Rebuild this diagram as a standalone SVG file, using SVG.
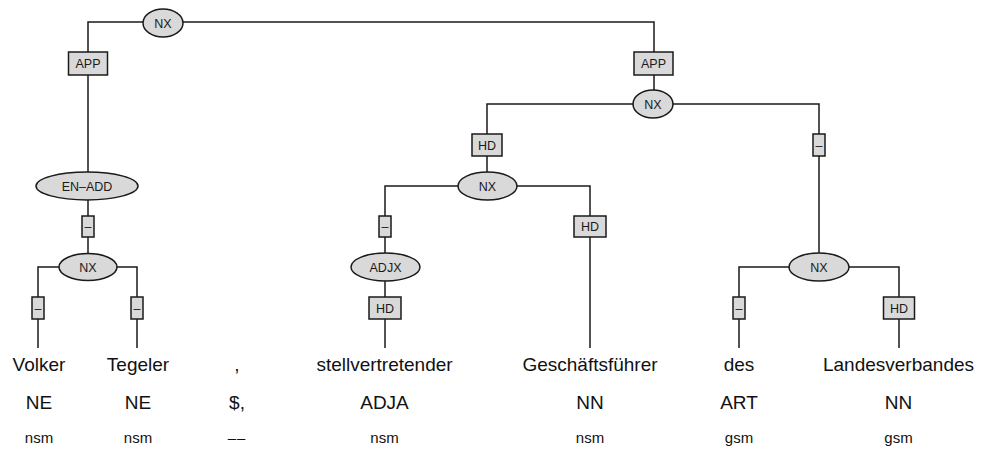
<svg xmlns="http://www.w3.org/2000/svg" width="981" height="455" viewBox="0 0 981 455">
<style>
.e{fill:none;stroke:#1a1a1a;stroke-width:1.5}
.n{fill:#d9d9d9;stroke:#1a1a1a;stroke-width:1.5}
.l{fill:#d9d9d9;stroke:#1a1a1a;stroke-width:1.5}
.t{font-family:"Liberation Sans",Arial,sans-serif;font-size:12.5px;fill:#1a1a1a;text-anchor:middle}
.w{font-family:"Liberation Sans",Arial,sans-serif;font-size:19px;fill:#111;text-anchor:middle}
.m{font-family:"Liberation Sans",Arial,sans-serif;font-size:15px;fill:#111;text-anchor:middle}
</style>
<rect width="981" height="455" fill="#fff"/>
<g id="connectors">
<path class="e" d="M163,22 H88 V172"/>
<path class="e" d="M163,22 H654 V90"/>
<path class="e" d="M88,200 V254"/>
<path class="e" d="M88,267 H38 V348"/>
<path class="e" d="M88,267 H137 V348"/>
<path class="e" d="M653,104 H487 V172"/>
<path class="e" d="M653,104 H819 V253"/>
<path class="e" d="M487,186 H385 V253"/>
<path class="e" d="M487,186 H590 V348"/>
<path class="e" d="M385,281 V348"/>
<path class="e" d="M819,267 H739 V348"/>
<path class="e" d="M819,267 H899 V348"/>
</g>
<g id="edge-labels">
<g id="lbl-app1"><rect class="l" x="68.5" y="52" width="39" height="23"/><text class="t" x="88" y="68">APP</text></g>
<g id="lbl-app2"><rect class="l" x="634" y="52" width="39" height="23"/><text class="t" x="653.5" y="68">APP</text></g>
<g id="lbl-d1"><rect class="l" x="82" y="216" width="12" height="21"/><text class="t" x="88" y="231">–</text></g>
<g id="lbl-d2"><rect class="l" x="32" y="297" width="12" height="22"/><text class="t" x="38" y="312.5">–</text></g>
<g id="lbl-d3"><rect class="l" x="131" y="297" width="12" height="22"/><text class="t" x="137" y="312.5">–</text></g>
<g id="lbl-hd1"><rect class="l" x="472" y="134" width="30" height="22"/><text class="t" x="487" y="149.5">HD</text></g>
<g id="lbl-d4"><rect class="l" x="813" y="134" width="12" height="22"/><text class="t" x="819" y="149.5">–</text></g>
<g id="lbl-d5"><rect class="l" x="379" y="216" width="12" height="21"/><text class="t" x="385" y="231">–</text></g>
<g id="lbl-hd2"><rect class="l" x="369" y="297" width="32" height="22"/><text class="t" x="385" y="312.5">HD</text></g>
<g id="lbl-hd3"><rect class="l" x="574" y="216" width="32" height="21"/><text class="t" x="590" y="231">HD</text></g>
<g id="lbl-d6"><rect class="l" x="733" y="297" width="12" height="22"/><text class="t" x="739" y="312.5">–</text></g>
<g id="lbl-hd4"><rect class="l" x="883.5" y="297" width="31" height="22"/><text class="t" x="899" y="312.5">HD</text></g>
</g>
<g id="n-nx-top"><ellipse class="n" cx="163" cy="23" rx="20" ry="14"/><text class="t" x="163" y="27.5">NX</text></g>
<g id="n-en-add"><ellipse class="n" cx="87" cy="186" rx="51" ry="14"/><text class="t" x="87" y="190.5">EN–ADD</text></g>
<g id="n-nx-left"><ellipse class="n" cx="88" cy="267" rx="29" ry="13.5"/><text class="t" x="88" y="271.5">NX</text></g>
<g id="n-nx-right"><ellipse class="n" cx="653" cy="104" rx="20" ry="14"/><text class="t" x="653" y="108.5">NX</text></g>
<g id="n-nx-mid"><ellipse class="n" cx="487.5" cy="186" rx="29.5" ry="14"/><text class="t" x="487.5" y="190.5">NX</text></g>
<g id="n-adjx"><ellipse class="n" cx="385.5" cy="267" rx="34.5" ry="14"/><text class="t" x="385.5" y="271.5">ADJX</text></g>
<g id="n-nx-gen"><ellipse class="n" cx="819" cy="267" rx="30" ry="14"/><text class="t" x="819" y="271.5">NX</text></g>
<g id="w-volker"><text class="w" x="39" y="371">Volker</text><text class="w" x="39" y="409">NE</text><text class="m" x="39" y="443">nsm</text></g>
<g id="w-tegeler"><text class="w" x="138" y="371">Tegeler</text><text class="w" x="138" y="409">NE</text><text class="m" x="138" y="443">nsm</text></g>
<g id="w-comma"><text class="w" x="237" y="371">,</text><text class="w" x="237" y="409">$,</text><text class="m" x="237" y="443" letter-spacing="1">––</text></g>
<g id="w-stellv"><text class="w" x="384.5" y="371">stellvertretender</text><text class="w" x="384.5" y="409">ADJA</text><text class="m" x="384.5" y="443">nsm</text></g>
<g id="w-gf"><text class="w" x="590" y="371">Geschäftsführer</text><text class="w" x="590" y="409">NN</text><text class="m" x="590" y="443">nsm</text></g>
<g id="w-des"><text class="w" x="739" y="371">des</text><text class="w" x="739" y="409">ART</text><text class="m" x="739" y="443">gsm</text></g>
<g id="w-lv"><text class="w" x="898.5" y="371">Landesverbandes</text><text class="w" x="898.5" y="409">NN</text><text class="m" x="898.5" y="443">gsm</text></g>
</svg>
